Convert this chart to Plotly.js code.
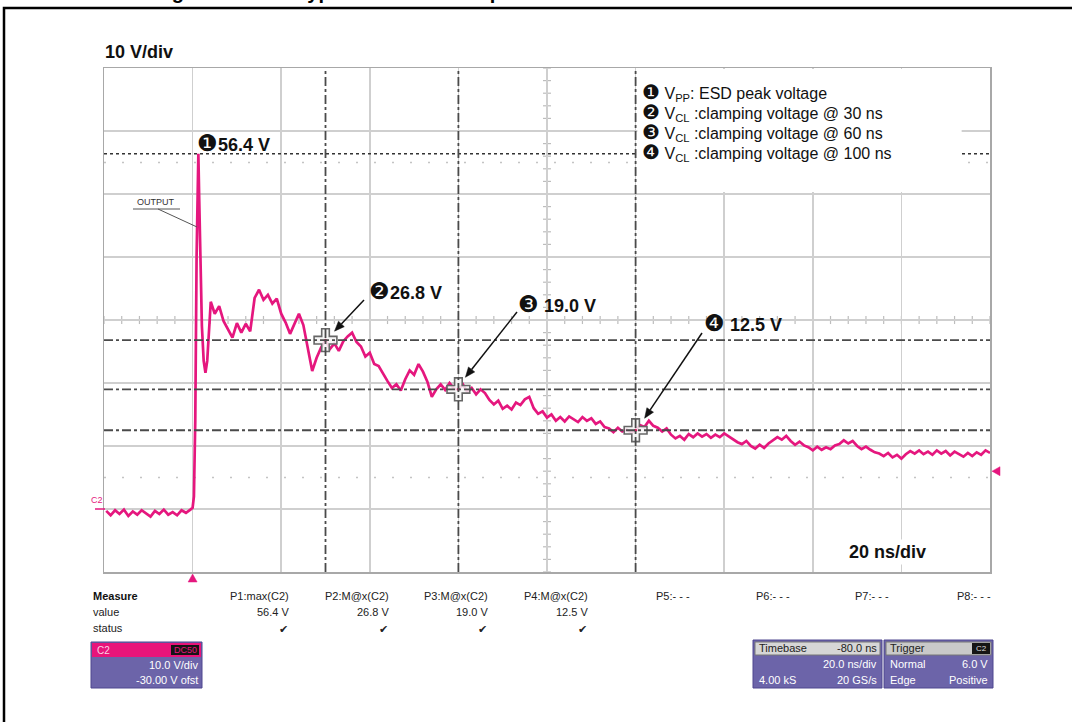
<!DOCTYPE html>
<html><head><meta charset="utf-8">
<script src="https://cdn.plot.ly/plotly-3.0.1.min.js"></script>
<style>body{margin:0;background:#fff}#chart{width:1072px;height:722px}</style>
</head><body><div id="chart"></div>
<script>
// ---------------- DATA ----------------
const timeNs = [
 -19.5,-18.5,-17.5,-16.5,-15.5,-14.5,-13.5,-12.5,-11.5,-10.5,
 -9.5,-8.5,-7.5,-6.5,-5.5,-4.5,-3.5,-2.5,-1.5,-0.5,0,
 0.3,0.6,0.9,1.1,1.3,1.5,1.8,2.1,2.5,2.9,3.3,3.7,4.1,
 5,6,7,8,9,10,11,12,13,14,15,16,17,18,19,20,21,22,23,24,25,26,27,28,29,30,
 31,32,33,34,35,36,37,38,39,40,41,42,43,44,45,46,47,48,49,50,
 51,52,53,54,55,56,57,58,59,60,61,62,63,64,65,66,67,68,69,70,
 71,72,73,74,75,76,77,78,79,80,81,82,83,84,85,86,87,88,89,90,
 91,92,93,94,95,96,97,98,99,100,101,102,103,104,105,106,107,108,109,110,
 111,112,113,114,115,116,117,118,119,120,121,122,123,124,125,126,127,128,129,130,
 131,132,133,134,135,136,137,138,139,140,141,142,143,144,145,146,147,148,149,150,
 151,152,153,154,155,156,157,158,159,160,161,162,163,164,165,166,167,168,169,170,
 171,172,173,174,175,176,177,178,179,180
];
const voltsV = [
 -0.3,-1.0,-0.2,-0.8,-0.1,-1.1,-0.4,-0.9,-0.2,-0.7,
 -1.2,-0.3,-0.8,-0.1,-0.9,-0.5,-1.0,-0.2,-0.6,-0.1,0.2,
 2.0,14.0,40.0,53.0,56.4,49.0,38.0,29.0,23.5,21.6,23.5,29.0,32.9,
 31.0,32.2,29.8,28.5,27.2,29.5,28.0,29.4,28.2,33.5,34.8,33.2,34.0,32.6,33.4,31.0,29.6,27.8,29.5,31.0,29.2,25.8,21.9,24.0,25.6,26.8,
 25.4,26.3,25.1,26.6,27.4,28.0,26.5,25.8,24.2,24.8,23.0,22.7,21.4,20.3,19.2,19.8,18.8,20.6,22.0,21.3,
 23.0,21.8,20.2,17.8,19.0,19.8,18.9,20.0,19.1,19.0,19.8,18.6,19.2,18.2,19.0,18.4,17.3,16.6,17.2,15.9,
 16.4,15.8,16.9,16.5,17.4,17.8,16.0,15.1,15.5,14.5,15.0,14.0,14.6,13.9,14.7,14.2,13.8,14.6,14.0,14.4,
 13.5,13.9,13.0,12.8,12.2,12.9,12.3,12.6,12.1,12.5,13.3,13.0,14.0,13.2,12.9,12.3,12.8,11.8,11.2,11.6,
 11.0,11.9,11.4,12.0,11.5,11.9,11.3,11.8,11.4,12.0,11.5,11.0,10.6,10.3,10.8,10.0,9.6,10.2,9.7,10.4,
 10.9,11.4,11.0,11.6,10.8,10.2,10.7,10.1,9.8,9.3,9.9,9.4,9.8,9.5,10.1,10.3,10.9,10.4,10.8,10.0,
 9.5,9.9,9.4,9.0,8.8,8.4,8.9,8.2,8.6,8.0,8.7,9.2,8.8,9.3,8.7,9.1,8.6,9.3,8.8,9.2,
 8.5,9.1,8.7,8.3,8.9,8.4,9.0,8.6,9.3,8.9
];
const peakVolt = 56.4;
const cursorTimesNs = [30, 60, 100];
const cursorVolts = [26.8, 19.0, 12.5];
const labelDigits = ['\u2776', '\u2777', '\u2778', '\u2779'];
const labelValues = ['56.4 V', '26.8 V', ' 19.0 V', ' 12.5 V'];
const legendTexts = [
  ' V<sub>PP</sub>: ESD peak voltage',
  ' V<sub>CL</sub> :clamping voltage @ 30 ns',
  ' V<sub>CL</sub> :clamping voltage @ 60 ns',
  ' V<sub>CL</sub> :clamping voltage @ 100 ns'
];
const measureNames = ['P1:max(C2)', 'P2:M@x(C2)', 'P3:M@x(C2)', 'P4:M@x(C2)'];
const measureValues = ['56.4 V', '26.8 V', '19.0 V', '12.5 V'];
const emptyParams = ['P5:- - -', 'P6:- - -', 'P7:- - -', 'P8:- - -'];
const triggerLevelV = 6.0;
const triggerTimeNs = 0;
const voltsPerDiv = '10 V/div';
const timePerDiv = '20 ns/div';
const titleText = 'Figure 10. ESD typical transient response';

// ---------------- LAYOUT HELPERS ----------------
const L = 104, R = 990, T = 68, B = 572;
const X0 = -20, X1 = 180, Y0 = -10, Y1 = 70;
const px = x => (x - L) / (R - L);
const py = y => (B - y) / (B - T);
const dataToPxX = t => L + (t - X0) / (X1 - X0) * (R - L);
const dataToPxY = v => B - (v - Y0) / (Y1 - Y0) * (B - T);
const FONT = 'Liberation Sans, Arial, sans-serif';
const PINK = '#e5177e';
const ann = [];
const shapes = [];
function txt(text, x, y, o) {
  ann.push(Object.assign({text, x: px(x), y: py(y), xref: 'paper', yref: 'paper',
    showarrow: false, xanchor: 'left', yanchor: 'middle',
    font: {family: FONT, size: 11, color: '#222'}}, o || {}));
}
function rectPx(x0, y0, x1, y1, fill, line, lw) {
  shapes.push({type: 'rect', xref: 'paper', yref: 'paper', x0: px(x0), x1: px(x1), y0: py(y1), y1: py(y0),
    fillcolor: fill, line: {color: line || fill, width: lw === undefined ? 1 : lw}, layer: 'above'});
}
function pathPx(pts, fill) {
  const d = pts.map((p, i) => (i ? 'L ' : 'M ') + px(p[0]).toFixed(5) + ' ' + py(p[1]).toFixed(5)).join(' ') + ' Z';
  shapes.push({type: 'path', xref: 'paper', yref: 'paper', path: d, fillcolor: fill, line: {color: fill, width: 0.5}, layer: 'above'});
}
function arrowPx(x0, y0, x1, y1) {
  const dx = x1 - x0, dy = y1 - y0, len = Math.hypot(dx, dy), ux = dx / len, uy = dy / len;
  const hl = 10, hw = 4;
  const bx = x1 - ux * hl, by = y1 - uy * hl;
  shapes.push({type: 'line', xref: 'paper', yref: 'paper', x0: px(x0), y0: py(y0), x1: px(bx), y1: py(by),
    line: {color: '#111', width: 1.5}, layer: 'above'});
  pathPx([[x1, y1], [bx - uy * hw, by + ux * hw], [bx + uy * hw, by - ux * hw]], '#111');
}

// outer frame (right and bottom edges lie outside the view)
rectPx(4, 8, 1090, 760, 'rgba(0,0,0,0)', '#000', 2.5);
// clipped title (only descenders visible)
txt('<b>' + titleText + '</b>', 152, 5, {yanchor: 'bottom', font: {family: FONT, size: 20, color: '#000'}});

// faint dotted rows
[5, 55].forEach(v => shapes.push({type: 'line', xref: 'x', yref: 'y', x0: X0, x1: X1, y0: v, y1: v,
  line: {color: '#c4c4c4', width: 1.5, dash: '2px,16px'}, layer: 'below'}));
// centre axis minor ticks
for (let t = X0; t <= X1; t += 4) {
  shapes.push({type: 'line', xref: 'x', yref: 'paper', x0: t, x1: t, y0: 0.5 - 0.008, y1: 0.5 + 0.008,
    line: {color: '#bdbdbd', width: 1.2}, layer: 'below'});
}
for (let v = Y0; v <= Y1; v += 2) {
  shapes.push({type: 'line', xref: 'paper', yref: 'y', x0: 0.5 - 0.0045, x1: 0.5 + 0.0045, y0: v, y1: v,
    line: {color: '#bdbdbd', width: 1.2}, layer: 'below'});
}
// peak dotted line
shapes.push({type: 'line', xref: 'x', yref: 'y', x0: X0, x1: X1, y0: peakVolt, y1: peakVolt,
  line: {color: '#333', width: 1.6, dash: 'dot'}, layer: 'above'});
// cursor dash-dot lines
cursorVolts.forEach(v => shapes.push({type: 'line', xref: 'x', yref: 'y', x0: X0, x1: X1, y0: v, y1: v,
  line: {color: '#4a4a4a', width: 1.8, dash: 'dashdot'}, layer: 'above'}));
// legend white box
shapes.push({type: 'rect', xref: 'x', yref: 'y', x0: 100.4, x1: 173.6, y0: 50.3, y1: 69.85,
  fillcolor: '#fff', line: {width: 0}, layer: 'above'});
cursorTimesNs.forEach(t => shapes.push({type: 'line', xref: 'x', yref: 'y', x0: t, x1: t, y0: Y0, y1: Y1,
  line: {color: '#4a4a4a', width: 1.8, dash: 'dashdot'}, layer: 'above'}));

// trigger markers (time at bottom, level at right)
const tx = dataToPxX(triggerTimeNs), ly = dataToPxY(triggerLevelV);
pathPx([[tx, 574], [tx - 4.5, 582], [tx + 4.5, 582]], PINK);
pathPx([[992, ly], [1000, ly - 4.5], [1000, ly + 4.5]], PINK);

// scale labels
txt('<b>' + voltsPerDiv + '</b>', 103, 52, {font: {family: FONT, size: 18, color: '#111'}});
txt('<b>' + timePerDiv + '</b>', 846, 552, {font: {family: FONT, size: 18, color: '#111'}, bgcolor: '#fff', borderpad: 2});

// point labels
const labelPos = [[195, 143], [367, 291], [516, 304], [702, 323]];
labelDigits.forEach((d, i) => txt('<span style="font-size:23px">' + d + '</span><b>' + labelValues[i] + '</b>',
  labelPos[i][0], labelPos[i][1], {font: {family: FONT, size: 18, color: '#111'}}));

// arrows from labels to the cursor markers
const arrowTails = [[364, 300], [517, 312], [702, 333]];
const headOffsets = [[9, -9], [7, -12], [9, -12]];
cursorTimesNs.forEach((t, i) => arrowPx(arrowTails[i][0], arrowTails[i][1],
  dataToPxX(t) + headOffsets[i][0], dataToPxY(cursorVolts[i]) + headOffsets[i][1]));

// legend lines
legendTexts.forEach((s, i) => txt('<span style="font-size:20px">' + labelDigits[i] + '</span>' + s,
  640, 92 + i * 20.3, {font: {family: FONT, size: 16, color: '#111'}}));

// OUTPUT label with leader
txt('OUTPUT', 156, 202, {xanchor: 'center', font: {family: FONT, size: 9, color: '#333'}});
shapes.push({type: 'line', xref: 'paper', yref: 'paper', x0: px(133), x1: px(180), y0: py(209), y1: py(209), line: {color: '#555', width: 1}});
shapes.push({type: 'line', xref: 'paper', yref: 'paper', x0: px(158), x1: px(197), y0: py(209), y1: py(227), line: {color: '#555', width: 1}});

// C2 channel label on the left
txt('C2', 89, 500, {font: {family: FONT, size: 9, color: PINK}});
shapes.push({type: 'line', xref: 'paper', yref: 'paper', x0: px(95), x1: px(105), y0: py(509), y1: py(509), line: {color: PINK, width: 1.5}});

// measure table
txt('<b>Measure</b>', 91, 596, {font: {family: FONT, size: 11, color: '#111'}});
txt('value', 91, 612);
txt('status', 91, 628);
const colRight = [291, 391, 490, 590];
measureNames.forEach((s, i) => {
  txt(s, colRight[i], 596, {xanchor: 'right'});
  txt(measureValues[i], colRight[i], 612, {xanchor: 'right'});
  txt('\u2714', colRight[i] - 8, 629, {xanchor: 'center', font: {family: 'DejaVu Sans', size: 11, color: '#222'}});
});
const emptyRight = [692, 792, 891, 993];
emptyParams.forEach((s, i) => txt(s, emptyRight[i], 596, {xanchor: 'right'}));

// C2 box
const PURPLE = '#6c64a9';
rectPx(91, 642, 202, 688, PURPLE, '#4f478f', 1);
rectPx(92, 643, 201, 657, '#e8157a', '#e8157a', 0);
rectPx(171, 645, 199, 655, '#151515', '#151515', 0);
txt('C2', 95, 650, {font: {family: FONT, size: 10, color: '#fbd3e5'}});
txt('DC50', 185, 650, {xanchor: 'center', font: {family: FONT, size: 9, color: '#e8157a'}});
txt('10.0 V/div', 200, 665, {xanchor: 'right', font: {family: FONT, size: 11, color: '#fff'}});
txt('-30.00 V ofst', 200, 680, {xanchor: 'right', font: {family: FONT, size: 11, color: '#fff'}});

// Timebase box
rectPx(753, 640, 882, 688, PURPLE, '#4f478f', 1);
rectPx(755, 642, 880, 655, '#d6d6d6', '#777', 1);
txt('Timebase', 757, 648, {font: {family: FONT, size: 11, color: '#222'}});
txt('-80.0 ns', 879, 648, {xanchor: 'right', font: {family: FONT, size: 11, color: '#222'}});
txt('20.0 ns/div', 879, 664, {xanchor: 'right', font: {family: FONT, size: 11, color: '#fff'}});
txt('4.00 kS', 757, 680, {font: {family: FONT, size: 11, color: '#fff'}});
txt('20 GS/s', 879, 680, {xanchor: 'right', font: {family: FONT, size: 11, color: '#fff'}});
// Trigger box
rectPx(884, 640, 993, 688, PURPLE, '#4f478f', 1);
rectPx(886, 642, 991, 655, '#c9c9c9', '#777', 1);
rectPx(972, 643, 990, 654, '#151515', '#151515', 0);
txt('Trigger', 888, 648, {font: {family: FONT, size: 11, color: '#222'}});
txt('C2', 981, 648.5, {xanchor: 'center', font: {family: FONT, size: 8, color: '#ddd'}});
txt('Normal', 888, 664, {font: {family: FONT, size: 11, color: '#fff'}});
txt('6.0 V', 990, 664, {xanchor: 'right', font: {family: FONT, size: 11, color: '#fff'}});
txt('Edge', 888, 680, {font: {family: FONT, size: 11, color: '#fff'}});
txt('Positive', 990, 680, {xanchor: 'right', font: {family: FONT, size: 11, color: '#fff'}});

// ---------------- TRACES ----------------
const traces = [
  {x: timeNs, y: voltsV, type: 'scatter', mode: 'lines', line: {color: PINK, width: 2.7}, hoverinfo: 'skip'},
  {x: cursorTimesNs, y: cursorVolts, type: 'scatter', mode: 'markers',
   marker: {symbol: 'cross', size: 19, color: 'rgba(245,245,245,0.85)', line: {color: '#666', width: 1.6}}},
  {x: cursorTimesNs, y: cursorVolts, type: 'scatter', mode: 'markers',
   marker: {symbol: 'circle', size: 3, color: '#d02060'}}
];

const layout = {
  width: 1072, height: 722,
  margin: {l: L, r: 1072 - R, t: T, b: 722 - B},
  paper_bgcolor: '#fff', plot_bgcolor: '#fff',
  showlegend: false,
  xaxis: {range: [X0, X1], tick0: 0, dtick: 20, showgrid: true, gridcolor: '#cfcfcf', gridwidth: 1.5,
    showticklabels: false, ticks: '', zeroline: false, showline: true, mirror: true, linecolor: '#a8a8a8', linewidth: 1.5, fixedrange: true},
  yaxis: {range: [Y0, Y1], tick0: 0, dtick: 10, showgrid: true, gridcolor: '#cfcfcf', gridwidth: 1.5,
    showticklabels: false, ticks: '', zeroline: false, showline: true, mirror: true, linecolor: '#a8a8a8', linewidth: 1.5, fixedrange: true},
  shapes: shapes,
  annotations: ann
};
Plotly.newPlot('chart', traces, layout, {displayModeBar: false, staticPlot: true});
</script></body></html>
